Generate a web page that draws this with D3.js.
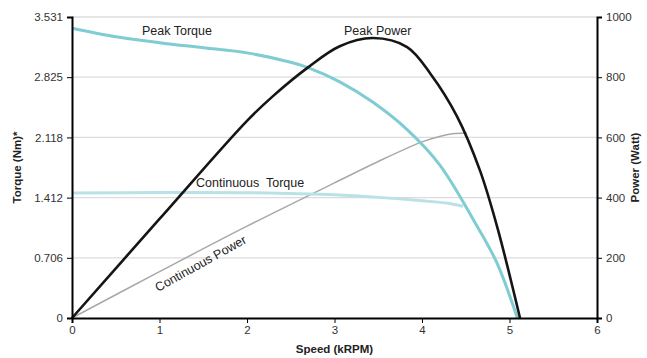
<!DOCTYPE html>
<html><head><meta charset="utf-8">
<script src="https://cdn.jsdelivr.net/npm/d3@7"></script>
<style>body{margin:0;background:#fff}svg{display:block;font-family:"Liberation Sans",Arial,sans-serif}</style>
</head><body><svg id="c" width="647" height="358"></svg>
<script>
const xTicks=[0,1,2,3,4,5,6];
const torqueTicks=[0,0.706,1.412,2.118,2.825,3.531];
const powerTicks=[0,200,400,600,800,1000];
const peakTorqueSpeed=[0,0.5,1,1.5,2,2.5,2.69,3.06,3.44,3.83,4.2,4.6,4.85,5.09];
const peakTorque=[3.40,3.30,3.23,3.17,3.11,3.00,2.94,2.77,2.53,2.21,1.80,1.13,0.66,0];
const peakPowerSpeed=[0,1,2,2.3,2.69,3.06,3.44,3.83,4.1,4.4,4.66,4.86,5.12];
const peakPower=[0,329,655,738,831,903,930,900,810,670,492,302,0];
const contTorqueSpeed=[0,1,2,2.5,3,3.5,4,4.3,4.47];
const contTorque=[1.466,1.472,1.47,1.46,1.445,1.415,1.375,1.345,1.31];
const contPowerSpeed=[0,1,2,3,3.5,4,4.2,4.35,4.51];
const contPower=[0,154,305,449,520,585,603,612,615];

const svg=d3.select("#c");
const m={l:72,r:50,t:17,b:40};
const W=647,H=358;
const x=d3.scaleLinear().domain([0,6]).range([m.l,W-m.r]);
const yT=d3.scaleLinear().domain([0,3.531]).range([H-m.b,m.t]);
const yP=d3.scaleLinear().domain([0,1000]).range([H-m.b,m.t]);

svg.append("g").selectAll("line").data(torqueTicks.slice(1)).join("line")
 .attr("x1",x(0)).attr("x2",x(6)).attr("y1",d=>yT(d)).attr("y2",d=>yT(d))
 .attr("stroke","#dcdcdc").attr("stroke-width",1.3);

const pair=(a,b)=>a.map((v,i)=>[v,b[i]]);
const cv=d3.curveCatmullRom.alpha(0.5);
const lineT=d3.line().x(d=>x(d[0])).y(d=>yT(d[1])).curve(cv);
const lineP=d3.line().x(d=>x(d[0])).y(d=>yP(d[1])).curve(cv);

svg.append("path").attr("d",lineP(pair(contPowerSpeed,contPower))).attr("fill","none").attr("stroke","#a8a8a8").attr("stroke-width",1.5);
svg.append("path").attr("d",lineT(pair(contTorqueSpeed,contTorque))).attr("fill","none").attr("stroke","#b9e2e6").attr("stroke-width",3);
svg.append("path").attr("d",lineT(pair(peakTorqueSpeed,peakTorque))).attr("fill","none").attr("stroke","#7fccd3").attr("stroke-width",3);
svg.append("path").attr("d",lineP(pair(peakPowerSpeed,peakPower))).attr("fill","none").attr("stroke","#151515").attr("stroke-width",2.6);

const fmtT=d=>d===0?"0":d3.format(".3f")(d);
const gl=svg.append("g").attr("transform",`translate(${m.l},0)`).call(d3.axisLeft(yT).tickValues(torqueTicks).tickFormat(fmtT).tickSizeOuter(0).tickSize(5));
const gr=svg.append("g").attr("transform",`translate(${W-m.r},0)`).call(d3.axisRight(yP).tickValues(powerTicks).tickFormat(d3.format("d")).tickSizeOuter(0).tickSize(5));
const gb=svg.append("g").attr("transform",`translate(0,${H-m.b})`).call(d3.axisBottom(x).tickValues(xTicks).tickFormat(d3.format("d")).tickSizeOuter(0).tickSize(5));
[gl,gr,gb].forEach(g=>{
 g.select(".domain").attr("stroke","#000").attr("stroke-width",2);
 g.selectAll(".tick line").attr("stroke","#000").attr("stroke-width",1);
 g.selectAll(".tick text").attr("fill","#333").attr("font-size",11.5).attr("font-family","Liberation Sans, Arial, sans-serif");
});
gl.selectAll(".tick text").attr("x",-9);
gr.selectAll(".tick text").attr("x",9);
gb.selectAll(".tick text").attr("y",8);

svg.append("text").attr("x",(x(0)+x(6))/2).attr("y",353).attr("text-anchor","middle").attr("font-weight","bold").attr("font-size",11.5).attr("fill","#222").text("Speed (kRPM)");
svg.append("text").attr("transform",`translate(21,${(m.t+H-m.b)/2}) rotate(-90)`).attr("text-anchor","middle").attr("font-weight","bold").attr("font-size",11.5).attr("fill","#222").text("Torque (Nm)*");
svg.append("text").attr("transform",`translate(639,${(m.t+H-m.b)/2}) rotate(-90)`).attr("text-anchor","middle").attr("font-weight","bold").attr("font-size",11.5).attr("fill","#222").text("Power (Watt)");

const lab=(t,px,py,rot)=>svg.append("text").attr("transform",`translate(${px},${py}) rotate(${rot||0})`).attr("font-size",12.5).attr("fill","#222").style("white-space","pre").text(t);
lab("Peak Torque",142,35);
lab("Peak Power",344,35);
lab("Continuous  Torque",196,187);
lab("Continuous Power",158,292,-29);
</script></body></html>
